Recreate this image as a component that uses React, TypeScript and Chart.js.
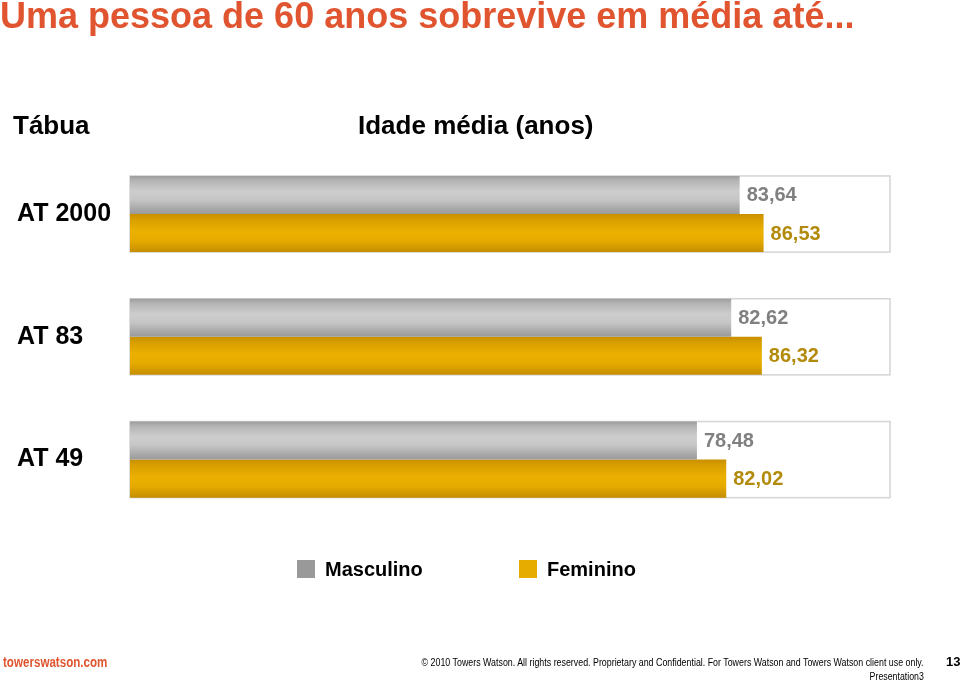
import React, { useEffect, useRef } from "react";
import { Chart, registerables } from "chart.js";

Chart.register(...registerables);

const categories = ["AT 2000", "AT 83", "AT 49"];
const masculino = [83.64, 82.62, 78.48];
const feminino = [86.53, 86.32, 82.02];
const seriesNames = ["Masculino", "Feminino"];

const CAT_PCT = 0.62;
const FONT = "'Liberation Sans', Arial, sans-serif";

const fmt = (v: number) => v.toFixed(2).replace(".", ",");

function bandInfo(chart: any, index: number) {
  const y = chart.scales.y;
  const c = y.getPixelForValue(index);
  const band = ((y.bottom - y.top) / categories.length) * CAT_PCT;
  return { c, band };
}

function makeGradient(chart: any, dsIndex: number, dataIndex: number) {
  const { c, band } = bandInfo(chart, dataIndex);
  const top = dsIndex === 0 ? c - band / 2 : c;
  const bottom = top + band / 2;
  const g = chart.ctx.createLinearGradient(0, top, 0, bottom);
  if (dsIndex === 0) {
    g.addColorStop(0, "#9c9c9c");
    g.addColorStop(0.12, "#b4b4b4");
    g.addColorStop(0.4, "#cdcdcd");
    g.addColorStop(0.62, "#c6c6c6");
    g.addColorStop(0.88, "#a6a6a6");
    g.addColorStop(1, "#9a9a9a");
  } else {
    g.addColorStop(0, "#c98f00");
    g.addColorStop(0.15, "#d89f00");
    g.addColorStop(0.45, "#ebb000");
    g.addColorStop(0.7, "#e6ab00");
    g.addColorStop(0.9, "#d09700");
    g.addColorStop(1, "#c48e00");
  }
  return g;
}

const boxPlugin = {
  id: "boxes",
  beforeDatasetsDraw(chart: any) {
    const ctx = chart.ctx;
    const area = chart.chartArea;
    ctx.save();
    ctx.strokeStyle = "#d4d4d4";
    ctx.lineWidth = 1.5;
    categories.forEach((_, i) => {
      const { c, band } = bandInfo(chart, i);
      ctx.strokeRect(area.left, c - band / 2, area.right - area.left, band);
    });
    ctx.restore();
  },
};

const valueLabels = {
  id: "valueLabels",
  afterDatasetsDraw(chart: any) {
    const ctx = chart.ctx;
    ctx.save();
    ctx.font = `bold 20px ${FONT}`;
    ctx.textBaseline = "middle";
    ctx.textAlign = "left";
    chart.data.datasets.forEach((ds: any, di: number) => {
      const meta = chart.getDatasetMeta(di);
      ctx.fillStyle = di === 0 ? "#808080" : "#b38b0c";
      meta.data.forEach((el: any, i: number) => {
        ctx.fillText(fmt(ds.data[i]), el.x + 7, el.y + (di === 0 ? 1 : 1));
      });
    });
    ctx.restore();
  },
};

export default function App() {
  const ref = useRef<HTMLCanvasElement>(null);
  useEffect(() => {
    if (!ref.current) return;
    const chart = new Chart(ref.current, {
      type: "bar",
      data: {
        labels: categories,
        datasets: [
          {
            label: seriesNames[0],
            data: masculino,
            backgroundColor: (ctx: any) =>
              ctx.type === "data" && ctx.chart.chartArea
                ? makeGradient(ctx.chart, 0, ctx.dataIndex)
                : "#999999",
            categoryPercentage: CAT_PCT,
            barPercentage: 1,
          },
          {
            label: seriesNames[1],
            data: feminino,
            backgroundColor: (ctx: any) =>
              ctx.type === "data" && ctx.chart.chartArea
                ? makeGradient(ctx.chart, 1, ctx.dataIndex)
                : "#e6ac00",
            categoryPercentage: CAT_PCT,
            barPercentage: 1,
          },
        ],
      },
      options: {
        indexAxis: "y",
        animation: false,
        responsive: false,
        layout: { padding: { top: 152.6, bottom: 159, left: 17, right: 70 } },
        plugins: { legend: { display: false }, tooltip: { enabled: false }, title: { display: false } },
        scales: {
          x: { display: false, min: 10, max: 101.8 },
          y: {
            grid: { display: false, drawTicks: false },
            border: { display: false },
            afterFit: (s: any) => {
              s.width = 113;
            },
            ticks: {
              crossAlign: "far",
              color: "#000",
              font: { family: FONT, size: 25, weight: "bold" },
            },
          },
        },
      },
      plugins: [boxPlugin, valueLabels],
    });
    return () => chart.destroy();
  }, []);

  const abs = (s: React.CSSProperties): React.CSSProperties => ({ position: "absolute", whiteSpace: "nowrap", ...s });

  return (
    <div style={{ position: "absolute", left: 0, top: 0, width: 960, height: 680, background: "#fff", overflow: "hidden", fontFamily: FONT }}>
      <canvas ref={ref} width={960} height={680} style={{ position: "absolute", left: 0, top: 0 }} />
      <div style={abs({ left: 0, top: -4, fontSize: 36, fontWeight: "bold", color: "#e05530", lineHeight: "40px" })}>
        Uma pessoa de 60 anos sobrevive em média até...
      </div>
      <div style={abs({ left: 13, top: 110, fontSize: 26, fontWeight: "bold", color: "#000", lineHeight: "30px" })}>Tábua</div>
      <div style={abs({ left: 358, top: 110, fontSize: 26, fontWeight: "bold", color: "#000", lineHeight: "30px" })}>Idade média (anos)</div>

      <div style={abs({ left: 297, top: 560, width: 18, height: 18, background: "#999999" })} />
      <div style={abs({ left: 325, top: 557, fontSize: 20, fontWeight: "bold", color: "#000", lineHeight: "24px" })}>{seriesNames[0]}</div>
      <div style={abs({ left: 519, top: 560, width: 18, height: 18, background: "#e6ac00" })} />
      <div style={abs({ left: 547, top: 557, fontSize: 20, fontWeight: "bold", color: "#000", lineHeight: "24px" })}>{seriesNames[1]}</div>

      <div style={abs({ left: 3, top: 653, fontSize: 14.5, fontWeight: "bold", color: "#e05530", lineHeight: "18px", transform: "scaleX(0.8)", transformOrigin: "left center" })}>towerswatson.com</div>
      <div style={abs({ right: 36, top: 655, fontSize: 11, color: "#000", lineHeight: "14px", transform: "scaleX(0.805)", transformOrigin: "right center" })}>
        © 2010 Towers Watson. All rights reserved. Proprietary and Confidential. For Towers Watson and Towers Watson client use only.
      </div>
      <div style={abs({ right: 36, top: 669, fontSize: 11, color: "#000", lineHeight: "14px", transform: "scaleX(0.8)", transformOrigin: "right center" })}>Presentation3</div>
      <div style={abs({ left: 946, top: 654, fontSize: 13, fontWeight: "bold", color: "#000", lineHeight: "16px" })}>13</div>
    </div>
  );
}
